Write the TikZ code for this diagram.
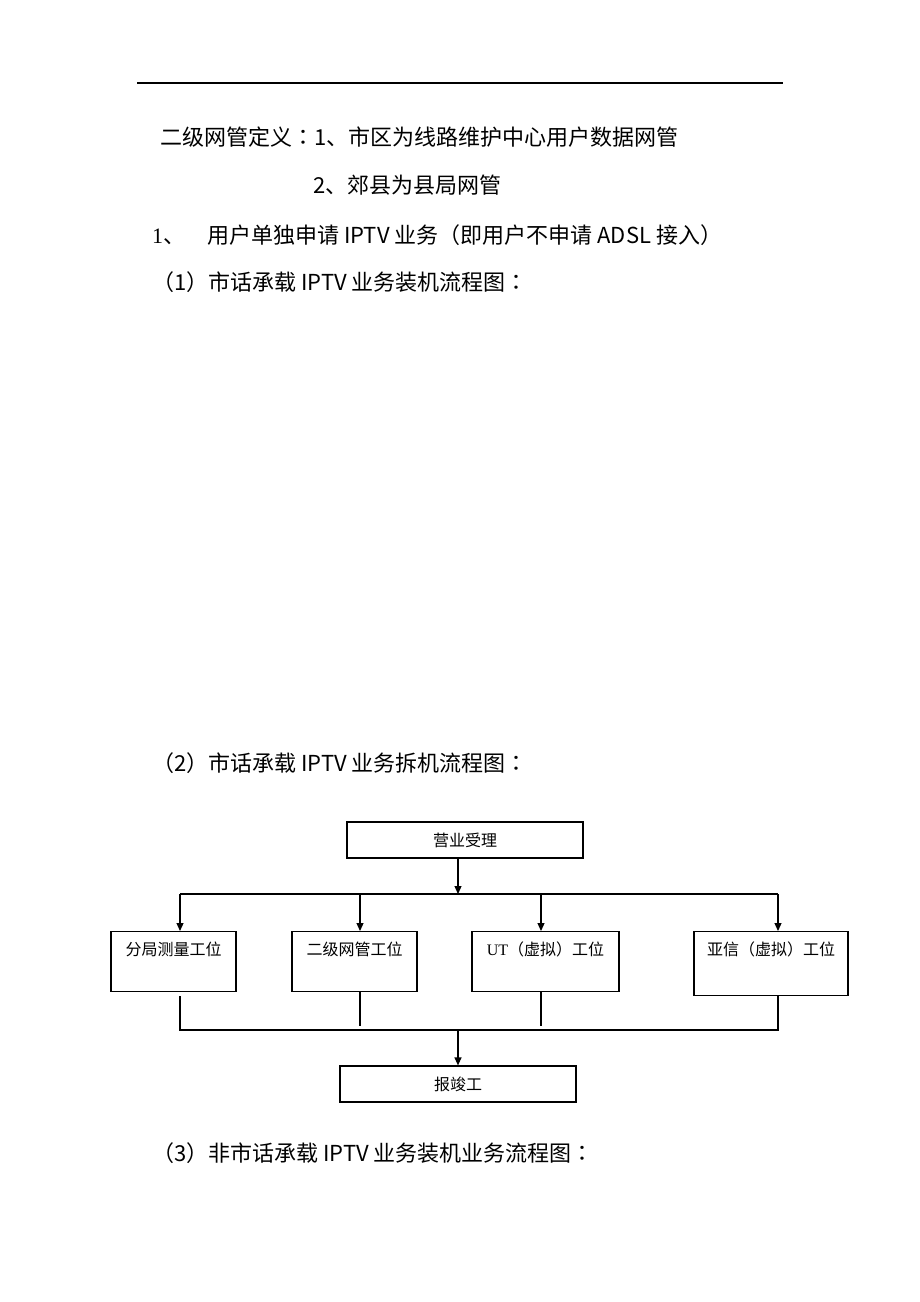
\documentclass[tikz,border=0pt]{standalone}
\usepackage{fontspec}
\setmainfont{Liberation Serif}
\newfontfamily\cjk{Noto Sans CJK SC}
\newfontfamily\cjkjp{Noto Sans CJK JP}
\newfontfamily\serif{Liberation Serif}
\newcommand\colonmark{{\cjkjp ：}}
\usetikzlibrary{arrows.meta,calc}

\begin{document}
\begin{tikzpicture}[x=1pt,y=-1pt,
  head/.style={anchor=base west,inner sep=0pt,font=\cjk\fontsize{22}{26}\selectfont},
  box/.style={draw,line width=1.2pt,inner sep=0pt,font=\cjk\fontsize{16}{19}\selectfont},
  station/.style={box,anchor=north,text height=24pt,text depth=36pt},
  link/.style={line width=1.2pt},
  >={Stealth[length=8pt,width=7pt,inset=0pt]}]
\useasboundingbox (0,0) rectangle (920,1302);
%
\draw[line width=1.3pt] (137,83) -- (783,83);
\node[head] (def1) at (160,145) {二级网管定义\colonmark 1、市区为线路维护中心用户数据网管};
\node[head] (def2) at (313,193) {2、郊县为县局网管};
\node[head] (num1) at (152,243) {{\serif 1}、};
\node[head] (item1) at (207,243) {用户单独申请 IPTV 业务（即用户不申请 ADSL 接入）};
\node[head] (step1) at (152,290) {（1）市话承载 IPTV 业务装机流程图\colonmark};
\node[head] (step2) at (152,771) {（2）市话承载 IPTV 业务拆机流程图\colonmark};
\node[head] (step3) at (152,1161) {（3）非市话承载 IPTV 业务装机业务流程图\colonmark};
%
\node[box,minimum width=236pt,minimum height=36pt] (accept) at (465,840) {营业受理};
\node[station,minimum width=125pt] (b1) at (173.5,931) {分局测量工位};
\node[station,minimum width=125pt] (b2) at (354.5,931) {二级网管工位};
\node[station,minimum width=147pt] (b3) at (545.5,931) {{\serif UT}（虚拟）工位};
\node[station,minimum width=154pt,text depth=40pt] (b4) at (771,931) {亚信（虚拟）工位};
\node[box,minimum width=236pt,minimum height=36pt] (done) at (458,1084) {报竣工};
%
\coordinate (split) at (458,894);
\coordinate (join) at (458,1030);
\foreach \n/\x in {1/180,2/360,3/541,4/778}
  \coordinate (c\n) at (\x,0);
%
\draw[link,->] (accept.south -| split) -- (split);
\draw[link] (split -| c1) -- (split -| c4);
\foreach \n in {1,...,4}
  \draw[link,->] (split -| c\n) -- (b\n.north -| c\n);
\draw[link] ($(b1.south -| c1)+(0,4)$) -- (join -| c1) -- (join -| c4) -- (b4.south -| c4);
\foreach \n in {2,3}
  \draw[link] (b\n.south -| c\n) -- ($(join -| c\n)+(0,-4)$);
\draw[link,->] (join) -- (done);
\end{tikzpicture}
\end{document}
